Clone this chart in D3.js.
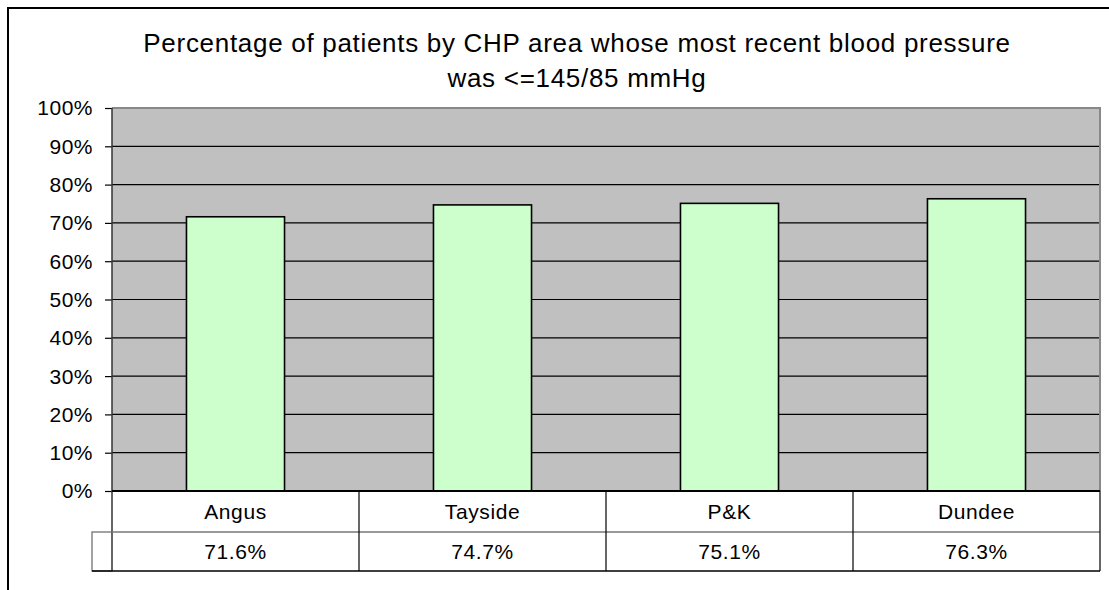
<!DOCTYPE html>
<html>
<head>
<meta charset="utf-8">
<script src="https://cdn.jsdelivr.net/npm/d3@7"></script>
<style>
  body { margin: 0; background: #fff; }
  text { font-family: "Liberation Sans", Arial, sans-serif; fill: #000; }
</style>
</head>
<body>
<div class="chart"></div>
<script>
const categories = ["Angus", "Tayside", "P&K", "Dundee"]
const values = [71.6, 74.7, 75.1, 76.3]
const yTicks = [0, 10, 20, 30, 40, 50, 60, 70, 80, 90, 100]
const titleLines = ["Percentage of patients by CHP area whose most recent blood pressure", "was <=145/85 mmHg"]

const W = 1109, H = 590
const plot = {left: 112, right: 1100, top: 108, bottom: 491}
const rowH = [41, 39]
const keyW = 20

const svg = d3.select(".chart")
	.append("svg")
	.attr("width", W)
	.attr("height", H)

// outer chart frame (only left and top edges show)
svg.append("rect")
	.attr("x", 8).attr("y", 8)
	.attr("width", W + 20).attr("height", H + 20)
	.attr("fill", "#fff")
	.attr("stroke", "#000")
	.attr("stroke-width", 2)

// title
svg.selectAll(".title")
	.data(titleLines)
	.enter()
	.append("text")
	.attr("class", "title")
	.attr("x", 577)
	.attr("y", function(d, i){ return 52 + i * 35 })
	.attr("text-anchor", "middle")
	.attr("font-size", "26px")
	.attr("letter-spacing", "0.7px")
	.text(function(d){ return d })

const xScale = d3.scaleBand()
	.domain(categories)
	.range([plot.left, plot.right])
	.padding(0)

const yScale = d3.scaleLinear()
	.domain([0, 100])
	.range([plot.bottom, plot.top])

const barW = xScale.bandwidth() * 0.397

// plot background
svg.append("rect")
	.attr("x", plot.left).attr("y", plot.top)
	.attr("width", plot.right - plot.left)
	.attr("height", plot.bottom - plot.top)
	.attr("fill", "#c0c0c0")

// gridlines
svg.selectAll(".grid")
	.data(yTicks.filter(function(t){ return t > 0 && t < 100 }))
	.enter()
	.append("line")
	.attr("x1", plot.left).attr("x2", plot.right)
	.attr("y1", function(d){ return yScale(d) })
	.attr("y2", function(d){ return yScale(d) })
	.attr("stroke", "#000")
	.attr("stroke-width", 1.2)

// plot border top / right
svg.append("path")
	.attr("d", "M" + plot.left + "," + plot.top + "H" + plot.right + "V" + plot.bottom)
	.attr("fill", "none")
	.attr("stroke", "#888")
	.attr("stroke-width", 2)

// bars
svg.selectAll(".bar")
	.data(values)
	.enter()
	.append("rect")
	.attr("class", "bar")
	.attr("x", function(d, i){ return xScale(categories[i]) + (xScale.bandwidth() - barW) / 2 })
	.attr("y", function(d){ return yScale(d) })
	.attr("width", barW)
	.attr("height", function(d){ return plot.bottom - yScale(d) })
	.attr("fill", "#ccffcc")
	.attr("stroke", "#000")
	.attr("stroke-width", 1.6)

// y axis
const yAxisCall = d3.axisLeft(yScale)
	.tickValues(yTicks)
	.tickSize(7)
	.tickPadding(12)
	.tickFormat(function(d){ return d + "%" })

const yAxis = svg.append("g")
	.attr("transform", "translate(" + plot.left + ",0)")
	.call(yAxisCall)
yAxis.select(".domain").remove()
yAxis.selectAll(".tick line").attr("stroke", "#000").attr("stroke-width", 1.2)
yAxis.selectAll(".tick text")
	.attr("font-family", "Liberation Sans, Arial, sans-serif")
	.attr("font-size", "21px")
	.attr("letter-spacing", "0.5px")
	.attr("dy", "0.33em")
	.attr("fill", "#000")

// data table
const tTop = plot.bottom
const tMid = tTop + rowH[0]
const tBot = tMid + rowH[1]

svg.append("line")
	.attr("x1", plot.left).attr("x2", plot.left)
	.attr("y1", plot.top).attr("y2", tBot)
	.attr("stroke", "#333").attr("stroke-width", 1.5)

svg.append("rect")
	.attr("x", plot.left - keyW).attr("y", tMid)
	.attr("width", keyW).attr("height", rowH[1])
	.attr("fill", "none").attr("stroke", "#666").attr("stroke-width", 1.2)

svg.append("line")
	.attr("x1", plot.left).attr("x2", plot.right)
	.attr("y1", tTop).attr("y2", tTop)
	.attr("stroke", "#000").attr("stroke-width", 2)
svg.append("line")
	.attr("x1", plot.left).attr("x2", plot.right)
	.attr("y1", tMid).attr("y2", tMid)
	.attr("stroke", "#777").attr("stroke-width", 1.5)
svg.append("line")
	.attr("x1", plot.left - keyW).attr("x2", plot.right)
	.attr("y1", tBot).attr("y2", tBot)
	.attr("stroke", "#000").attr("stroke-width", 1.5)

svg.selectAll(".divider")
	.data(categories.slice(1))
	.enter()
	.append("line")
	.attr("x1", function(d){ return xScale(d) })
	.attr("x2", function(d){ return xScale(d) })
	.attr("y1", tTop).attr("y2", tBot)
	.attr("stroke", "#000").attr("stroke-width", 1.2)

svg.append("line")
	.attr("x1", plot.right).attr("x2", plot.right)
	.attr("y1", tTop).attr("y2", tBot)
	.attr("stroke", "#000").attr("stroke-width", 1.2)

svg.selectAll(".cat")
	.data(categories)
	.enter()
	.append("text")
	.attr("x", function(d){ return xScale(d) + xScale.bandwidth() / 2 })
	.attr("y", tTop + rowH[0] / 2)
	.attr("dy", "0.36em")
	.attr("text-anchor", "middle")
	.attr("font-size", "21px")
	.attr("letter-spacing", "0.6px")
	.text(function(d){ return d })

svg.selectAll(".val")
	.data(values)
	.enter()
	.append("text")
	.attr("x", function(d, i){ return xScale(categories[i]) + xScale.bandwidth() / 2 })
	.attr("y", tMid + rowH[1] / 2)
	.attr("dy", "0.36em")
	.attr("text-anchor", "middle")
	.attr("font-size", "21px")
	.attr("letter-spacing", "0.6px")
	.text(function(d){ return d.toFixed(1) + "%" })
</script>
</body>
</html>
